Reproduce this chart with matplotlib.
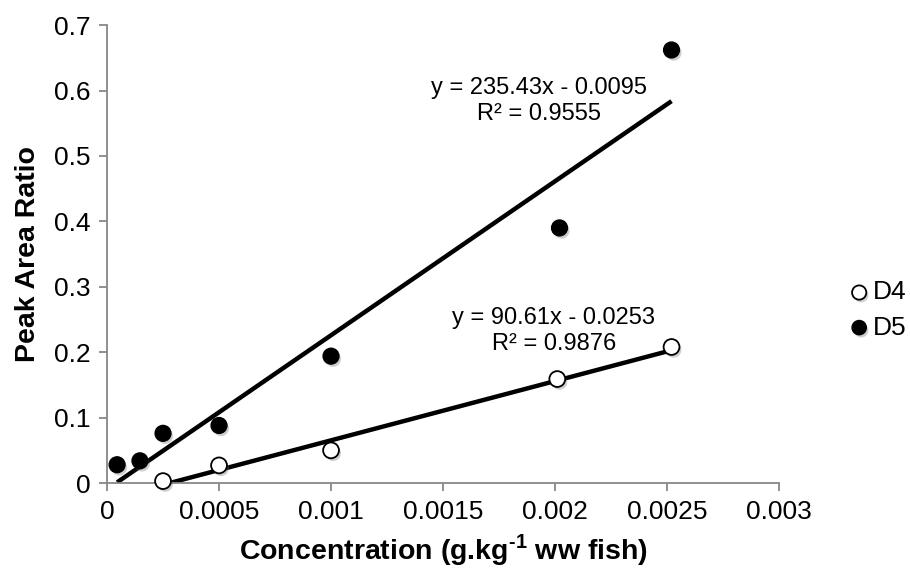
import numpy as np
import matplotlib
matplotlib.use("Agg")
import matplotlib.pyplot as plt
import matplotlib.patheffects as pe

plt.rcParams["font.family"] = ["Liberation Sans", "DejaVu Sans"]
# only the axis label superscript uses mathtext, keep it bold like the label
plt.rcParams["mathtext.fontset"] = "custom"
plt.rcParams["mathtext.rm"] = "Liberation Sans:bold"

# data
d4_x = [0.00025, 0.0005, 0.001, 0.00201, 0.00252]
d4_y = [0.003, 0.027, 0.050, 0.159, 0.208]
d5_x = [0.000045, 0.000147, 0.00025, 0.0005, 0.001, 0.00202, 0.00252]
d5_y = [0.028, 0.034, 0.076, 0.088, 0.194, 0.390, 0.662]

# trend line coefficients (slope, intercept) and R²
d4_fit = (90.61, -0.0253)
d5_fit = (235.43, -0.0095)
d4_r2 = "0.9876"
d5_r2 = "0.9555"

x_ticks = [0, 0.0005, 0.001, 0.0015, 0.002, 0.0025, 0.003]
x_tick_labels = ["0", "0.0005", "0.001", "0.0015", "0.002", "0.0025", "0.003"]
y_ticks = [0, 0.1, 0.2, 0.3, 0.4, 0.5, 0.6, 0.7]
y_tick_labels = ["0", "0.1", "0.2", "0.3", "0.4", "0.5", "0.6", "0.7"]

fig = plt.figure(figsize=(9.1, 5.71), dpi=100)
ax = fig.add_axes([0.1176, 0.154, 0.7385, 0.802])

axis_grey = "#878787"
shadow = [pe.SimplePatchShadow(offset=(1.5, -2), shadow_rgbFace="#777777", alpha=0.35), pe.Normal()]

# trend lines over the data range
for xs, (m, b) in [(d4_x, d4_fit), (d5_x, d5_fit)]:
    xr = np.array([min(xs), max(xs)])
    ax.plot(xr, m * xr + b, color="black", lw=3.2, solid_capstyle="butt", zorder=2)

ax.scatter(d4_x, d4_y, s=130, facecolor="white", edgecolor="black", linewidth=1.3,
           zorder=3, label="D4", path_effects=shadow, clip_on=False)
ax.scatter(d5_x, d5_y, s=130, facecolor="black", edgecolor="black", linewidth=1.0,
           zorder=3, label="D5", path_effects=shadow, clip_on=False)

ax.set_xlim(0, 0.003)
ax.set_ylim(0, 0.7)
ax.set_xticks(x_ticks)
ax.set_xticklabels(x_tick_labels)
ax.set_yticks(y_ticks)
ax.set_yticklabels(y_tick_labels)

for side in ["top", "right"]:
    ax.spines[side].set_visible(False)
for side in ["left", "bottom"]:
    ax.spines[side].set_color(axis_grey)
    ax.spines[side].set_linewidth(1.3)
ax.tick_params(direction="out", length=6, width=1.3, color=axis_grey,
               labelsize=19, labelcolor="black", pad=6)

ax.set_xlabel("Concentration (g.kg$^{\\text{-1}}$ ww fish)", fontsize=20.5,
              fontweight="bold", labelpad=6)
ax.set_ylabel("Peak Area Ratio", fontsize=20.5, fontweight="bold", labelpad=9)

fig.text(539 / 910, 1 - 101 / 571, f"y = {d5_fit[0]}x - {abs(d5_fit[1])}\nR² = {d5_r2}",
         ha="center", va="center", fontsize=17, linespacing=1.25)
fig.text(554 / 910, 1 - 331 / 571, f"y = {d4_fit[0]}x - {abs(d4_fit[1])}\nR² = {d4_r2}",
         ha="center", va="center", fontsize=17, linespacing=1.25)

leg = fig.legend(loc="center left", frameon=False, fontsize=19, handletextpad=0.0,
                 labelspacing=0.42, borderpad=0, handlelength=1.0, borderaxespad=0,
                 markerscale=0.9)
leg.set_bbox_to_anchor((846 / 910, 1 - 310 / 571), transform=fig.transFigure)

fig.savefig("out.png", dpi=100)
